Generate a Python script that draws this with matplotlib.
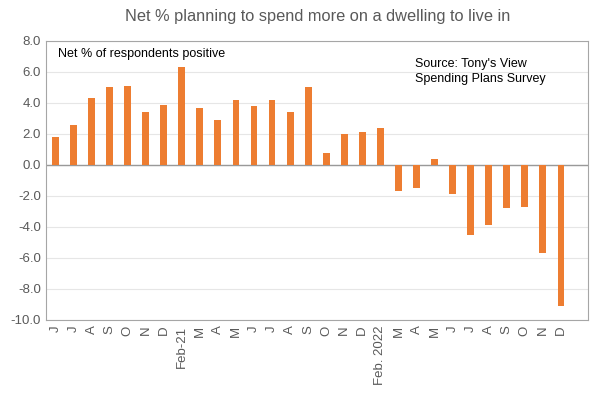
import numpy as np
import matplotlib.pyplot as plt

plt.rcParams["font.family"] = ["Liberation Sans", "DejaVu Sans"]

months = ["J", "J", "A", "S", "O", "N", "D", "Feb-21", "M", "A", "M", "J", "J", "A",
          "S", "O", "N", "D", "Feb. 2022", "M", "A", "M", "J", "J", "A", "S", "O", "N", "D"]
net_pct = [1.8, 2.6, 4.3, 5.0, 5.1, 3.4, 3.9, 6.3, 3.7, 2.9, 4.2, 3.8, 4.2, 3.4,
           5.0, 0.8, 2.0, 2.1, 2.4, -1.7, -1.5, 0.4, -1.9, -4.5, -3.9, -2.8, -2.7, -5.7, -9.1]
y_ticks = [8, 6, 4, 2, 0, -2, -4, -6, -8, -10]

grey = "#595959"

fig = plt.figure(figsize=(5.94, 3.94), dpi=100)
ax = fig.add_axes([0.078, 0.188, 0.912, 0.708])

x = np.arange(len(months))
ax.bar(x, net_pct, width=0.38, color="#ED7D31", zorder=3)

ax.set_xlim(-0.5, len(months) + 0.5)
ax.set_ylim(-10, 8)
ax.set_yticks(y_ticks)
ax.set_yticklabels([f"{v:.1f}" for v in y_ticks], color=grey, fontsize=9.5)
ax.set_xticks(x)
ax.set_xticklabels(months, rotation=90, color=grey, fontsize=9.5)
ax.tick_params(length=0, pad=4)

ax.grid(axis="y", color="#e6e6e6", linewidth=0.8, zorder=0)
ax.axhline(0, color="#999999", linewidth=1, zorder=2)
for s in ax.spines.values():
    s.set_color("#a6a6a6")

ax.text(0.022, 0.975, "Net % of respondents positive", transform=ax.transAxes,
        fontsize=9, va="top", ha="left")
ax.text(0.68, 0.94, "Source: Tony's View\nSpending Plans Survey", transform=ax.transAxes,
        fontsize=9, va="top", ha="left", linespacing=1.35)

fig.suptitle("Net % planning to spend more on a dwelling to live in", x=0.535, y=0.978,
             fontsize=11.8, color=grey)

fig.savefig("out.png", dpi=100)
